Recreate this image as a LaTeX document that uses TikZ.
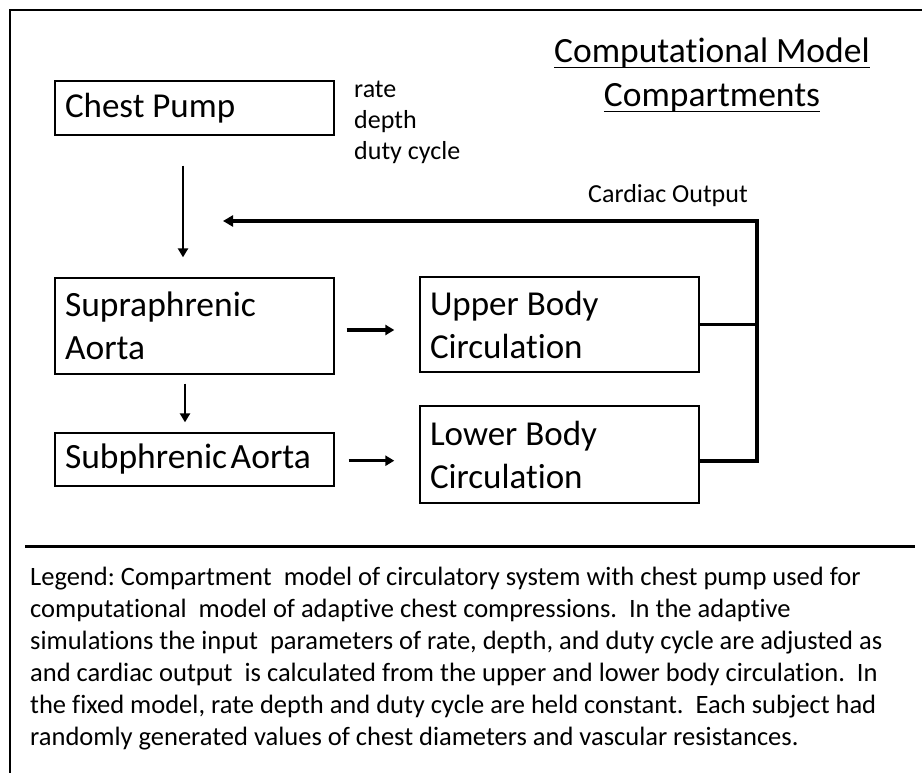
\documentclass[tikz,border=0pt]{standalone}
\usepackage{fontspec}
\setmainfont{Carlito}[Ligatures=NoCommon, RawFeature=-liga]
\usetikzlibrary{arrows.meta,calc}
\frenchspacing
\newcommand\myul[1]{\setbox0\hbox{#1}\rlap{\rule[-5.5pt]{\wd0}{1.5pt}}\box0}
\tikzset{
  natspace/.style={execute at begin node={\spaceskip=0pt\xspaceskip=0pt\frenchspacing}},
  compbox/.style={draw, natspace, line width=1.3pt, inner xsep=10pt, inner ysep=0pt, align=left,
    minimum width=279pt, text width=259pt, font=\fontsize{35}{43}\selectfont},
  bigtext/.style={font=\fontsize{35.5}{43}\selectfont},
  arr/.style={line width=3.2pt, -{Triangle[length=9pt,width=10pt]}},
  fbline/.style={line width=3.6pt},
  small/.style={natspace, font=\fontsize{26}{31}\selectfont, inner sep=0pt, align=left},
}
\begin{document}
\begin{tikzpicture}[x=1pt,y=-1pt]
\useasboundingbox (0,0) rectangle (922,773);
% frame
\draw[line width=1.6pt] (922,10) -- (10,10) -- (10,773);
\draw[line width=3pt] (25,546) -- (915,546);
% title
\node[natspace, font=\fontsize{35.5}{44}\selectfont, align=center, anchor=base, inner sep=0pt] (title) at (712,107)
  {\myul{Computational Model}\\\myul{Compartments}};
% boxes
\node[compbox, minimum height=54pt] (pump) at (194.5,108) {Chest Pump};
\node[compbox, bigtext, minimum height=96pt] (supra) at (194.5,326) {Supraphrenic\\Aorta};
\node[compbox, bigtext, minimum height=53pt] (sub) at (194.5,459.5) {Subphrenic\hspace{0.1em}Aorta};
\node[compbox, minimum height=95pt, inner xsep=9pt] (upper) at (559.5,324.5) {Upper Body\\Circulation};
\node[compbox, minimum height=97pt, inner xsep=9pt] (lower) at (559.5,454.5) {Lower Body\\Circulation};
% labels
\node[small, anchor=base west] (params) at (354,160) {rate\\depth\\duty cycle};
\node[small, anchor=base east] (co) at (748,203) {Cardiac Output};
% arrows
\draw[arr, line width=2.8pt, shorten <=30pt, shorten >=20pt] ([xshift=-11.5pt]pump.south) -- ([xshift=-11.5pt]supra.north);
\draw[arr, line width=2.8pt, shorten <=9pt, shorten >=10pt] ([xshift=-9.5pt]supra.south) -- ([xshift=-9.5pt]sub.north);
\draw[arr, shorten <=12pt, shorten >=25pt] ([yshift=-4pt]supra.east) -- ([yshift=-5.5pt]upper.west);
\draw[arr, shorten <=14pt, shorten >=25pt] ([yshift=-1.2pt]sub.east) -- ([yshift=-6.2pt]lower.west);
% feedback
\coordinate (fb) at (757,221);
\coordinate (fbtip) at (223,221);
\draw[fbline] (upper.east) -- (upper.east -| fb);
\draw[fbline, line join=miter] ([yshift=-6.5pt]lower.east) -| (fb) -- ([xshift=10pt]fbtip);
\draw[line width=3pt, -{Triangle[length=10pt,width=11pt]}] ([xshift=12pt]fbtip) -- (fbtip);
% legend
\node[natspace, font=\fontsize{26.5}{32}\selectfont, align=left, anchor=base west, inner sep=0pt] (legend) at (30,745)
{Legend: Compartment\ \ model of circulatory system with chest pump used for\\
computational\ \ model of adaptive chest compressions.\ \ In the adaptive\\
simulations the input\ \ parameters of rate, depth, and duty cycle are adjusted as\\
and cardiac output\ \ is calculated from the upper and lower body circulation.\ \ In\\
the fixed model, rate depth and duty cycle are held constant.\ \ Each subject had\\
randomly generated values of chest diameters and vascular resistances.};
\end{tikzpicture}
\end{document}
